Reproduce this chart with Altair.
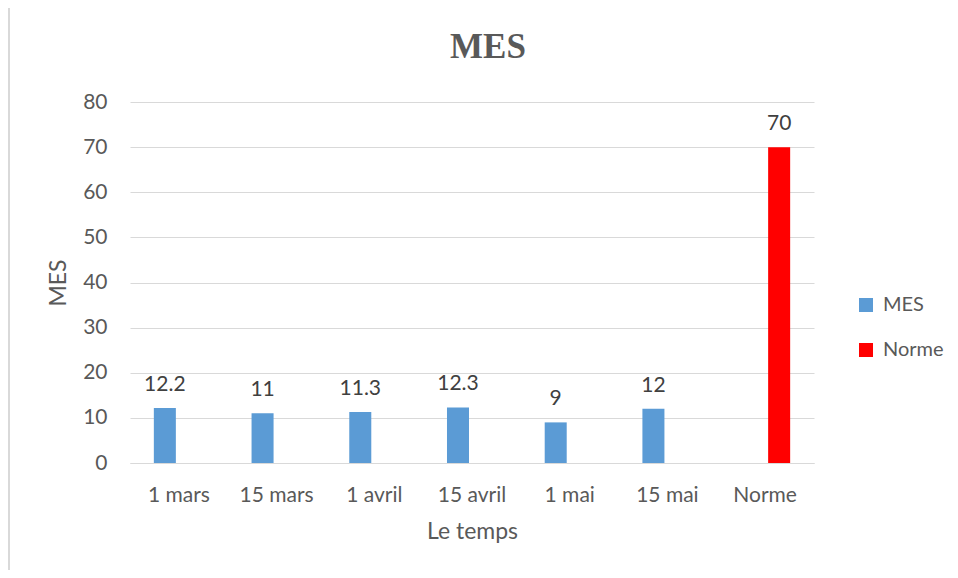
import altair as alt
import pandas as pd

categories = ["1 mars", "15 mars", "1 avril", "15 avril", "1 mai", "15 mai", "Norme"]
mes_values = [12.2, 11, 11.3, 12.3, 9, 12]
norme_value = [70]
series = ["MES", "Norme"]
colors = ["#5B9BD5", "#FF0000"]

rows = [{"date": c, "serie": "MES", "value": v} for c, v in zip(categories[:6], mes_values)]
rows += [{"date": "Norme", "serie": "Norme", "value": norme_value[0]}]
df = pd.DataFrame(rows)

FONT = "Lato"
GRAY = "#595959"

x_enc = alt.X(
    "date:N",
    sort=categories,
    scale=alt.Scale(paddingInner=0.488, paddingOuter=0.244),
    axis=alt.Axis(
        title="Le temps", labelAngle=0, ticks=False, labelPadding=21,
        labelFontSize=21, labelColor=GRAY, labelFont=FONT,
        titleFontSize=23, titleColor=GRAY, titleFont=FONT, titleFontWeight="normal",
        titlePadding=15, domainColor="#d9d9d9", domainWidth=1,
    ),
)
xoff = alt.XOffset(
    "serie:N",
    scale=alt.Scale(domain=series, paddingInner=0.214, paddingOuter=0),
)
y_enc = alt.Y(
    "value:Q",
    scale=alt.Scale(domain=[0, 80]),
    axis=alt.Axis(
        title="MES", values=list(range(0, 81, 10)), ticks=False, domain=False,
        labelPadding=23, labelFontSize=21, labelColor=GRAY, labelFont=FONT,
        titleFontSize=23, titleColor=GRAY, titleFont=FONT, titleFontWeight="normal",
        titlePadding=12, gridColor="#d9d9d9", gridWidth=1,
    ),
)

bars = alt.Chart(df).mark_bar().encode(
    x=x_enc,
    xOffset=xoff,
    y=y_enc,
    color=alt.Color(
        "serie:N",
        scale=alt.Scale(domain=series, range=colors),
        legend=alt.Legend(
            title=None, orient="none", legendX=726, legendY=193,
            symbolType="square", symbolSize=196, symbolStrokeWidth=0,
            labelFontSize=20, labelColor=GRAY, labelFont=FONT,
            rowPadding=25, labelOffset=7, padding=0,
        ),
    ),
)

labels = alt.Chart(df).mark_text(
    baseline="alphabetic", dy=-17, fontSize=21, color="#404040", font=FONT
).encode(
    x=alt.X("date:N", sort=categories),
    xOffset=alt.XOffset("serie:N"),
    y=alt.Y("value:Q"),
    text=alt.Text("value:Q"),
)

frame = alt.Chart(df).mark_rule(color="#d9d9d9", strokeWidth=2).encode(
    x=alt.value(-121), y=alt.value(-94), y2=alt.value(476)
)

chart = alt.layer(bars, labels, frame).properties(
    width=684,
    height=361,
    autosize=alt.AutoSizeParams(type="none"),
    padding={"left": 122, "top": 94, "right": 136, "bottom": 107},
    title=alt.TitleParams(
        "MES", font="Liberation Serif", fontSize=35, fontWeight="bold",
        color=GRAY, anchor="middle", dx=16, offset=-86,
        baseline="alphabetic",
    ),
).configure_view(stroke=None)

chart.save("out.html", embed_options={"renderer": "svg", "actions": False})
